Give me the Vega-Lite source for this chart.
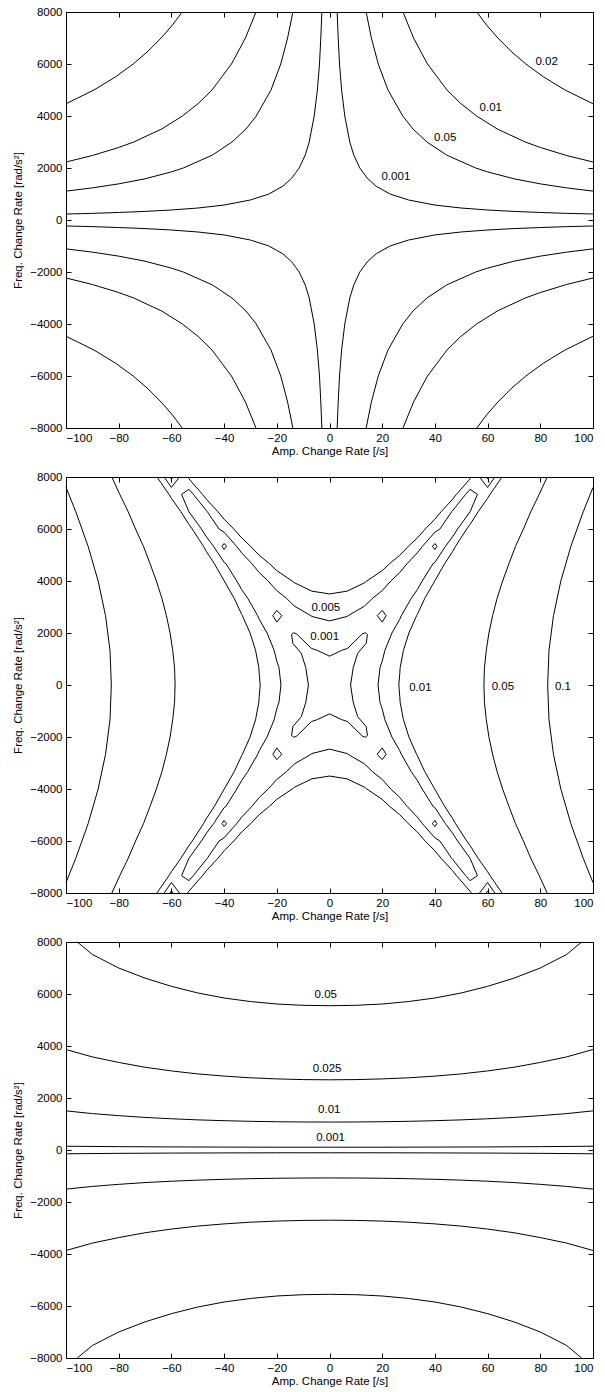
{
"$schema": "https://vega.github.io/schema/vega-lite/v6.json",
"padding": {"left": 12, "top": 5, "right": 2, "bottom": 4},
"bounds": "flush",
"spacing": 49,
"config": {
  "font": "Liberation Sans",
  "view": {"stroke": "black", "strokeWidth": 1},
  "axis": {"grid": false, "domain": false, "tickColor": "black", "tickSize": -5, "labelColor": "black", "labelFontSize": 11.5, "labelFont": "Liberation Sans", "titleFont": "Liberation Sans", "titleFontSize": 11.5, "titleFontWeight": "normal", "titleColor": "black"},
  "line": {"color": "black", "strokeWidth": 1, "clip": true},
  "text": {"color": "black", "fontSize": 11.5, "font": "Liberation Sans"}
},
"datasets": {
"p1": [
{"s":"A1","x":2.9,"y":8000},{"s":"A1","x":3.3,"y":7000},{"s":"A1","x":3.8,"y":6000},{"s":"A1","x":4.6,"y":5000},{"s":"A1","x":5.8,"y":4000},{"s":"A1","x":7.7,"y":3000},{"s":"A1","x":9.2,"y":2500},{"s":"A1","x":11.5,"y":2000},{"s":"A1","x":14.4,"y":1600},{"s":"A1","x":17.7,"y":1300},{"s":"A1","x":23,"y":1000},{"s":"A1","x":30,"y":770},{"s":"A1","x":40,"y":575},{"s":"A1","x":50,"y":460},{"s":"A1","x":60,"y":385},{"s":"A1","x":70,"y":330},{"s":"A1","x":80,"y":290},{"s":"A1","x":90,"y":255},{"s":"A1","x":100,"y":230},
{"s":"A2","x":-2.9,"y":8000},{"s":"A2","x":-3.3,"y":7000},{"s":"A2","x":-3.8,"y":6000},{"s":"A2","x":-4.6,"y":5000},{"s":"A2","x":-5.8,"y":4000},{"s":"A2","x":-7.7,"y":3000},{"s":"A2","x":-9.2,"y":2500},{"s":"A2","x":-11.5,"y":2000},{"s":"A2","x":-14.4,"y":1600},{"s":"A2","x":-17.7,"y":1300},{"s":"A2","x":-23,"y":1000},{"s":"A2","x":-30,"y":770},{"s":"A2","x":-40,"y":575},{"s":"A2","x":-50,"y":460},{"s":"A2","x":-60,"y":385},{"s":"A2","x":-70,"y":330},{"s":"A2","x":-80,"y":290},{"s":"A2","x":-90,"y":255},{"s":"A2","x":-100,"y":230},
{"s":"A3","x":-2.9,"y":-8000},{"s":"A3","x":-3.3,"y":-7000},{"s":"A3","x":-3.8,"y":-6000},{"s":"A3","x":-4.6,"y":-5000},{"s":"A3","x":-5.8,"y":-4000},{"s":"A3","x":-7.7,"y":-3000},{"s":"A3","x":-9.2,"y":-2500},{"s":"A3","x":-11.5,"y":-2000},{"s":"A3","x":-14.4,"y":-1600},{"s":"A3","x":-17.7,"y":-1300},{"s":"A3","x":-23,"y":-1000},{"s":"A3","x":-30,"y":-770},{"s":"A3","x":-40,"y":-575},{"s":"A3","x":-50,"y":-460},{"s":"A3","x":-60,"y":-385},{"s":"A3","x":-70,"y":-330},{"s":"A3","x":-80,"y":-290},{"s":"A3","x":-90,"y":-255},{"s":"A3","x":-100,"y":-230},
{"s":"A4","x":2.9,"y":-8000},{"s":"A4","x":3.3,"y":-7000},{"s":"A4","x":3.8,"y":-6000},{"s":"A4","x":4.6,"y":-5000},{"s":"A4","x":5.8,"y":-4000},{"s":"A4","x":7.7,"y":-3000},{"s":"A4","x":9.2,"y":-2500},{"s":"A4","x":11.5,"y":-2000},{"s":"A4","x":14.4,"y":-1600},{"s":"A4","x":17.7,"y":-1300},{"s":"A4","x":23,"y":-1000},{"s":"A4","x":30,"y":-770},{"s":"A4","x":40,"y":-575},{"s":"A4","x":50,"y":-460},{"s":"A4","x":60,"y":-385},{"s":"A4","x":70,"y":-330},{"s":"A4","x":80,"y":-290},{"s":"A4","x":90,"y":-255},{"s":"A4","x":100,"y":-230},
{"s":"B1","x":13.9,"y":8000},{"s":"B1","x":15.9,"y":7000},{"s":"B1","x":18.5,"y":6000},{"s":"B1","x":22.2,"y":5000},{"s":"B1","x":27.8,"y":4000},{"s":"B1","x":31.7,"y":3500},{"s":"B1","x":37,"y":3000},{"s":"B1","x":44.4,"y":2500},{"s":"B1","x":55.5,"y":2000},{"s":"B1","x":60,"y":1850},{"s":"B1","x":70,"y":1585},{"s":"B1","x":80,"y":1390},{"s":"B1","x":90,"y":1235},{"s":"B1","x":100,"y":1110},
{"s":"B2","x":-13.9,"y":8000},{"s":"B2","x":-15.9,"y":7000},{"s":"B2","x":-18.5,"y":6000},{"s":"B2","x":-22.2,"y":5000},{"s":"B2","x":-27.8,"y":4000},{"s":"B2","x":-31.7,"y":3500},{"s":"B2","x":-37,"y":3000},{"s":"B2","x":-44.4,"y":2500},{"s":"B2","x":-55.5,"y":2000},{"s":"B2","x":-60,"y":1850},{"s":"B2","x":-70,"y":1585},{"s":"B2","x":-80,"y":1390},{"s":"B2","x":-90,"y":1235},{"s":"B2","x":-100,"y":1110},
{"s":"B3","x":-13.9,"y":-8000},{"s":"B3","x":-15.9,"y":-7000},{"s":"B3","x":-18.5,"y":-6000},{"s":"B3","x":-22.2,"y":-5000},{"s":"B3","x":-27.8,"y":-4000},{"s":"B3","x":-31.7,"y":-3500},{"s":"B3","x":-37,"y":-3000},{"s":"B3","x":-44.4,"y":-2500},{"s":"B3","x":-55.5,"y":-2000},{"s":"B3","x":-60,"y":-1850},{"s":"B3","x":-70,"y":-1585},{"s":"B3","x":-80,"y":-1390},{"s":"B3","x":-90,"y":-1235},{"s":"B3","x":-100,"y":-1110},
{"s":"B4","x":13.9,"y":-8000},{"s":"B4","x":15.9,"y":-7000},{"s":"B4","x":18.5,"y":-6000},{"s":"B4","x":22.2,"y":-5000},{"s":"B4","x":27.8,"y":-4000},{"s":"B4","x":31.7,"y":-3500},{"s":"B4","x":37,"y":-3000},{"s":"B4","x":44.4,"y":-2500},{"s":"B4","x":55.5,"y":-2000},{"s":"B4","x":60,"y":-1850},{"s":"B4","x":70,"y":-1585},{"s":"B4","x":80,"y":-1390},{"s":"B4","x":90,"y":-1235},{"s":"B4","x":100,"y":-1110},
{"s":"C1","x":27.9,"y":8000},{"s":"C1","x":31.9,"y":7000},{"s":"C1","x":37.2,"y":6000},{"s":"C1","x":44.6,"y":5000},{"s":"C1","x":49.6,"y":4500},{"s":"C1","x":55.8,"y":4000},{"s":"C1","x":63.7,"y":3500},{"s":"C1","x":74.3,"y":3000},{"s":"C1","x":80,"y":2790},{"s":"C1","x":90,"y":2480},{"s":"C1","x":100,"y":2230},
{"s":"C2","x":-27.9,"y":8000},{"s":"C2","x":-31.9,"y":7000},{"s":"C2","x":-37.2,"y":6000},{"s":"C2","x":-44.6,"y":5000},{"s":"C2","x":-49.6,"y":4500},{"s":"C2","x":-55.8,"y":4000},{"s":"C2","x":-63.7,"y":3500},{"s":"C2","x":-74.3,"y":3000},{"s":"C2","x":-80,"y":2790},{"s":"C2","x":-90,"y":2480},{"s":"C2","x":-100,"y":2230},
{"s":"C3","x":-27.9,"y":-8000},{"s":"C3","x":-31.9,"y":-7000},{"s":"C3","x":-37.2,"y":-6000},{"s":"C3","x":-44.6,"y":-5000},{"s":"C3","x":-49.6,"y":-4500},{"s":"C3","x":-55.8,"y":-4000},{"s":"C3","x":-63.7,"y":-3500},{"s":"C3","x":-74.3,"y":-3000},{"s":"C3","x":-80,"y":-2790},{"s":"C3","x":-90,"y":-2480},{"s":"C3","x":-100,"y":-2230},
{"s":"C4","x":27.9,"y":-8000},{"s":"C4","x":31.9,"y":-7000},{"s":"C4","x":37.2,"y":-6000},{"s":"C4","x":44.6,"y":-5000},{"s":"C4","x":49.6,"y":-4500},{"s":"C4","x":55.8,"y":-4000},{"s":"C4","x":63.7,"y":-3500},{"s":"C4","x":74.3,"y":-3000},{"s":"C4","x":80,"y":-2790},{"s":"C4","x":90,"y":-2480},{"s":"C4","x":100,"y":-2230},
{"s":"D1","x":55.9,"y":8000},{"s":"D1","x":59.6,"y":7500},{"s":"D1","x":63.9,"y":7000},{"s":"D1","x":68.8,"y":6500},{"s":"D1","x":74.5,"y":6000},{"s":"D1","x":81.3,"y":5500},{"s":"D1","x":89.4,"y":5000},{"s":"D1","x":100,"y":4470},
{"s":"D2","x":-55.9,"y":8000},{"s":"D2","x":-59.6,"y":7500},{"s":"D2","x":-63.9,"y":7000},{"s":"D2","x":-68.8,"y":6500},{"s":"D2","x":-74.5,"y":6000},{"s":"D2","x":-81.3,"y":5500},{"s":"D2","x":-89.4,"y":5000},{"s":"D2","x":-100,"y":4470},
{"s":"D3","x":-55.9,"y":-8000},{"s":"D3","x":-59.6,"y":-7500},{"s":"D3","x":-63.9,"y":-7000},{"s":"D3","x":-68.8,"y":-6500},{"s":"D3","x":-74.5,"y":-6000},{"s":"D3","x":-81.3,"y":-5500},{"s":"D3","x":-89.4,"y":-5000},{"s":"D3","x":-100,"y":-4470},
{"s":"D4","x":55.9,"y":-8000},{"s":"D4","x":59.6,"y":-7500},{"s":"D4","x":63.9,"y":-7000},{"s":"D4","x":68.8,"y":-6500},{"s":"D4","x":74.5,"y":-6000},{"s":"D4","x":81.3,"y":-5500},{"s":"D4","x":89.4,"y":-5000},{"s":"D4","x":100,"y":-4470}
],
"p1t": [
{"t":"0.02","x":82.4,"y":6080},{"t":"0.01","x":61.2,"y":4301},{"t":"0.05","x":43.9,"y":3149},{"t":"0.001","x":25.2,"y":1664}
],
"p2s": [
{"s":"r1","x":100,"y":-7600},{"s":"r1","x":96.3,"y":-6667},{"s":"r1","x":91.6,"y":-5333},{"s":"r1","x":87.8,"y":-4000},{"s":"r1","x":85,"y":-2667},{"s":"r1","x":83.3,"y":-1333},{"s":"r1","x":82.8,"y":0},{"s":"r1","x":83.3,"y":1333},{"s":"r1","x":85,"y":2667},{"s":"r1","x":87.8,"y":4000},{"s":"r1","x":91.6,"y":5333},{"s":"r1","x":96.3,"y":6667},{"s":"r1","x":100,"y":7600},
{"s":"r2","x":-100,"y":-7600},{"s":"r2","x":-96.3,"y":-6667},{"s":"r2","x":-91.6,"y":-5333},{"s":"r2","x":-87.8,"y":-4000},{"s":"r2","x":-85,"y":-2667},{"s":"r2","x":-83.3,"y":-1333},{"s":"r2","x":-82.8,"y":0},{"s":"r2","x":-83.3,"y":1333},{"s":"r2","x":-85,"y":2667},{"s":"r2","x":-87.8,"y":4000},{"s":"r2","x":-91.6,"y":5333},{"s":"r2","x":-96.3,"y":6667},{"s":"r2","x":-100,"y":7600},
{"s":"f1","x":82.6,"y":-8000},{"s":"f1","x":79.6,"y":-7333},{"s":"f1","x":76.4,"y":-6667},{"s":"f1","x":73.6,"y":-6000},{"s":"f1","x":70.6,"y":-5333},{"s":"f1","x":68.1,"y":-4667},{"s":"f1","x":65.7,"y":-4000},{"s":"f1","x":63.6,"y":-3333},{"s":"f1","x":61.9,"y":-2667},{"s":"f1","x":60.5,"y":-2000},{"s":"f1","x":59.5,"y":-1333},{"s":"f1","x":58.8,"y":-667},{"s":"f1","x":58.6,"y":0},{"s":"f1","x":58.8,"y":667},{"s":"f1","x":59.5,"y":1333},{"s":"f1","x":60.5,"y":2000},{"s":"f1","x":61.9,"y":2667},{"s":"f1","x":63.6,"y":3333},{"s":"f1","x":65.7,"y":4000},{"s":"f1","x":68.1,"y":4667},{"s":"f1","x":70.6,"y":5333},{"s":"f1","x":73.6,"y":6000},{"s":"f1","x":76.4,"y":6667},{"s":"f1","x":79.6,"y":7333},{"s":"f1","x":82.6,"y":8000},
{"s":"f2","x":-82.6,"y":-8000},{"s":"f2","x":-79.6,"y":-7333},{"s":"f2","x":-76.4,"y":-6667},{"s":"f2","x":-73.6,"y":-6000},{"s":"f2","x":-70.6,"y":-5333},{"s":"f2","x":-68.1,"y":-4667},{"s":"f2","x":-65.7,"y":-4000},{"s":"f2","x":-63.6,"y":-3333},{"s":"f2","x":-61.9,"y":-2667},{"s":"f2","x":-60.5,"y":-2000},{"s":"f2","x":-59.5,"y":-1333},{"s":"f2","x":-58.8,"y":-667},{"s":"f2","x":-58.6,"y":0},{"s":"f2","x":-58.8,"y":667},{"s":"f2","x":-59.5,"y":1333},{"s":"f2","x":-60.5,"y":2000},{"s":"f2","x":-61.9,"y":2667},{"s":"f2","x":-63.6,"y":3333},{"s":"f2","x":-65.7,"y":4000},{"s":"f2","x":-68.1,"y":4667},{"s":"f2","x":-70.6,"y":5333},{"s":"f2","x":-73.6,"y":6000},{"s":"f2","x":-76.4,"y":6667},{"s":"f2","x":-79.6,"y":7333},{"s":"f2","x":-82.6,"y":8000},
{"s":"g1","x":65.48,"y":-8000},{"s":"g1","x":60.94,"y":-7333},{"s":"g1","x":60,"y":-7182},{"s":"g1","x":56.42,"y":-6667},{"s":"g1","x":53.33,"y":-6175},{"s":"g1","x":52.08,"y":-6000},{"s":"g1","x":47.83,"y":-5333},{"s":"g1","x":46.67,"y":-5126},{"s":"g1","x":43.69,"y":-4667},{"s":"g1","x":40,"y":-4011},{"s":"g1","x":36.17,"y":-3333},{"s":"g1","x":33.33,"y":-2716},{"s":"g1","x":33.06,"y":-2667},{"s":"g1","x":30.14,"y":-2000},{"s":"g1","x":28.06,"y":-1333},{"s":"g1","x":26.81,"y":-667},{"s":"g1","x":26.67,"y":-444},{"s":"g1","x":26.31,"y":0},{"s":"g1","x":26.67,"y":444},{"s":"g1","x":26.81,"y":667},{"s":"g1","x":28.06,"y":1333},{"s":"g1","x":30.14,"y":2000},{"s":"g1","x":33.06,"y":2667},{"s":"g1","x":33.33,"y":2716},{"s":"g1","x":36.17,"y":3333},{"s":"g1","x":40,"y":4011},{"s":"g1","x":43.69,"y":4667},{"s":"g1","x":46.67,"y":5126},{"s":"g1","x":47.83,"y":5333},{"s":"g1","x":52.08,"y":6000},{"s":"g1","x":53.33,"y":6175},{"s":"g1","x":56.42,"y":6667},{"s":"g1","x":60,"y":7182},{"s":"g1","x":60.94,"y":7333},{"s":"g1","x":65.48,"y":8000},
{"s":"g2","x":-65.48,"y":-8000},{"s":"g2","x":-60.94,"y":-7333},{"s":"g2","x":-60,"y":-7182},{"s":"g2","x":-56.42,"y":-6667},{"s":"g2","x":-53.33,"y":-6175},{"s":"g2","x":-52.08,"y":-6000},{"s":"g2","x":-47.83,"y":-5333},{"s":"g2","x":-46.67,"y":-5126},{"s":"g2","x":-43.69,"y":-4667},{"s":"g2","x":-40,"y":-4011},{"s":"g2","x":-36.17,"y":-3333},{"s":"g2","x":-33.33,"y":-2716},{"s":"g2","x":-33.06,"y":-2667},{"s":"g2","x":-30.14,"y":-2000},{"s":"g2","x":-28.06,"y":-1333},{"s":"g2","x":-26.81,"y":-667},{"s":"g2","x":-26.67,"y":-444},{"s":"g2","x":-26.31,"y":0},{"s":"g2","x":-26.67,"y":444},{"s":"g2","x":-26.81,"y":667},{"s":"g2","x":-28.06,"y":1333},{"s":"g2","x":-30.14,"y":2000},{"s":"g2","x":-33.06,"y":2667},{"s":"g2","x":-33.33,"y":2716},{"s":"g2","x":-36.17,"y":3333},{"s":"g2","x":-40,"y":4011},{"s":"g2","x":-43.69,"y":4667},{"s":"g2","x":-46.67,"y":5126},{"s":"g2","x":-47.83,"y":5333},{"s":"g2","x":-52.08,"y":6000},{"s":"g2","x":-53.33,"y":6175},{"s":"g2","x":-56.42,"y":6667},{"s":"g2","x":-60,"y":7182},{"s":"g2","x":-60.94,"y":7333},{"s":"g2","x":-65.48,"y":8000}
],
"p2t": [
{"s":"u1","x":-53.87,"y":8000},{"s":"u1","x":-53.33,"y":7929},{"s":"u1","x":-48.2,"y":7333},{"s":"u1","x":-46.67,"y":7139},{"s":"u1","x":-42.37,"y":6667},{"s":"u1","x":-40,"y":6378},{"s":"u1","x":-36.32,"y":6000},{"s":"u1","x":-33.33,"y":5656},{"s":"u1","x":-29.91,"y":5333},{"s":"u1","x":-26.67,"y":4988},{"s":"u1","x":-22.8,"y":4667},{"s":"u1","x":-20,"y":4399},{"s":"u1","x":-14.17,"y":4000},{"s":"u1","x":-13.33,"y":3933},{"s":"u1","x":-6.67,"y":3609},{"s":"u1","x":0,"y":3502},{"s":"u1","x":6.67,"y":3609},{"s":"u1","x":13.33,"y":3933},{"s":"u1","x":14.17,"y":4000},{"s":"u1","x":20,"y":4399},{"s":"u1","x":22.8,"y":4667},{"s":"u1","x":26.67,"y":4988},{"s":"u1","x":29.91,"y":5333},{"s":"u1","x":33.33,"y":5656},{"s":"u1","x":36.32,"y":6000},{"s":"u1","x":40,"y":6378},{"s":"u1","x":42.37,"y":6667},{"s":"u1","x":46.67,"y":7139},{"s":"u1","x":48.2,"y":7333},{"s":"u1","x":53.33,"y":7929},{"s":"u1","x":53.87,"y":8000},
{"s":"u2","x":-53.87,"y":-8000},{"s":"u2","x":-53.33,"y":-7929},{"s":"u2","x":-48.2,"y":-7333},{"s":"u2","x":-46.67,"y":-7139},{"s":"u2","x":-42.37,"y":-6667},{"s":"u2","x":-40,"y":-6378},{"s":"u2","x":-36.32,"y":-6000},{"s":"u2","x":-33.33,"y":-5656},{"s":"u2","x":-29.91,"y":-5333},{"s":"u2","x":-26.67,"y":-4988},{"s":"u2","x":-22.8,"y":-4667},{"s":"u2","x":-20,"y":-4399},{"s":"u2","x":-14.17,"y":-4000},{"s":"u2","x":-13.33,"y":-3933},{"s":"u2","x":-6.67,"y":-3609},{"s":"u2","x":0,"y":-3502},{"s":"u2","x":6.67,"y":-3609},{"s":"u2","x":13.33,"y":-3933},{"s":"u2","x":14.17,"y":-4000},{"s":"u2","x":20,"y":-4399},{"s":"u2","x":22.8,"y":-4667},{"s":"u2","x":26.67,"y":-4988},{"s":"u2","x":29.91,"y":-5333},{"s":"u2","x":33.33,"y":-5656},{"s":"u2","x":36.32,"y":-6000},{"s":"u2","x":40,"y":-6378},{"s":"u2","x":42.37,"y":-6667},{"s":"u2","x":46.67,"y":-7139},{"s":"u2","x":48.2,"y":-7333},{"s":"u2","x":53.33,"y":-7929},{"s":"u2","x":53.87,"y":-8000}
],
"p2o": [
{"s":"v1","i":0,"x":0,"y":2466},{"s":"v1","i":1,"x":6.67,"y":2635},{"s":"v1","i":2,"x":7.08,"y":2667},{"s":"v1","i":3,"x":13.33,"y":3037},{"s":"v1","i":4,"x":16.33,"y":3333},{"s":"v1","i":5,"x":20,"y":3630},{"s":"v1","i":6,"x":23.27,"y":4000},{"s":"v1","i":7,"x":26.67,"y":4325},{"s":"v1","i":8,"x":29.44,"y":4667},{"s":"v1","i":9,"x":33.33,"y":5081},{"s":"v1","i":10,"x":35.26,"y":5333},{"s":"v1","i":11,"x":40,"y":5878},{"s":"v1","i":12,"x":41.9,"y":6000},{"s":"v1","i":13,"x":46.38,"y":6667},{"s":"v1","i":14,"x":46.67,"y":6698},{"s":"v1","i":15,"x":51.67,"y":7333},{"s":"v1","i":16,"x":53.33,"y":7526},{"s":"v1","i":17,"x":56.15,"y":7333},{"s":"v1","i":18,"x":53.35,"y":6665},{"s":"v1","i":19,"x":48.61,"y":6000},{"s":"v1","i":20,"x":46.67,"y":5695},{"s":"v1","i":21,"x":44.01,"y":5333},{"s":"v1","i":22,"x":40,"y":4716},{"s":"v1","i":23,"x":39.29,"y":4667},{"s":"v1","i":24,"x":35.19,"y":4000},{"s":"v1","i":25,"x":33.33,"y":3670},{"s":"v1","i":26,"x":31.02,"y":3333},{"s":"v1","i":27,"x":27.27,"y":2667},{"s":"v1","i":28,"x":26.67,"y":2529},{"s":"v1","i":29,"x":23.69,"y":2000},{"s":"v1","i":30,"x":21.01,"y":1333},{"s":"v1","i":31,"x":20,"y":914},{"s":"v1","i":32,"x":19.17,"y":667},{"s":"v1","i":33,"x":18.42,"y":0},
{"s":"v2","i":0,"x":0,"y":2466},{"s":"v2","i":1,"x":-6.67,"y":2635},{"s":"v2","i":2,"x":-7.08,"y":2667},{"s":"v2","i":3,"x":-13.33,"y":3037},{"s":"v2","i":4,"x":-16.33,"y":3333},{"s":"v2","i":5,"x":-20,"y":3630},{"s":"v2","i":6,"x":-23.27,"y":4000},{"s":"v2","i":7,"x":-26.67,"y":4325},{"s":"v2","i":8,"x":-29.44,"y":4667},{"s":"v2","i":9,"x":-33.33,"y":5081},{"s":"v2","i":10,"x":-35.26,"y":5333},{"s":"v2","i":11,"x":-40,"y":5878},{"s":"v2","i":12,"x":-41.9,"y":6000},{"s":"v2","i":13,"x":-46.38,"y":6667},{"s":"v2","i":14,"x":-46.67,"y":6698},{"s":"v2","i":15,"x":-51.67,"y":7333},{"s":"v2","i":16,"x":-53.33,"y":7526},{"s":"v2","i":17,"x":-56.15,"y":7333},{"s":"v2","i":18,"x":-53.35,"y":6665},{"s":"v2","i":19,"x":-48.61,"y":6000},{"s":"v2","i":20,"x":-46.67,"y":5695},{"s":"v2","i":21,"x":-44.01,"y":5333},{"s":"v2","i":22,"x":-40,"y":4716},{"s":"v2","i":23,"x":-39.29,"y":4667},{"s":"v2","i":24,"x":-35.19,"y":4000},{"s":"v2","i":25,"x":-33.33,"y":3670},{"s":"v2","i":26,"x":-31.02,"y":3333},{"s":"v2","i":27,"x":-27.27,"y":2667},{"s":"v2","i":28,"x":-26.67,"y":2529},{"s":"v2","i":29,"x":-23.69,"y":2000},{"s":"v2","i":30,"x":-21.01,"y":1333},{"s":"v2","i":31,"x":-20,"y":914},{"s":"v2","i":32,"x":-19.17,"y":667},{"s":"v2","i":33,"x":-18.42,"y":0},
{"s":"v3","i":0,"x":0,"y":-2466},{"s":"v3","i":1,"x":-6.67,"y":-2635},{"s":"v3","i":2,"x":-7.08,"y":-2667},{"s":"v3","i":3,"x":-13.33,"y":-3037},{"s":"v3","i":4,"x":-16.33,"y":-3333},{"s":"v3","i":5,"x":-20,"y":-3630},{"s":"v3","i":6,"x":-23.27,"y":-4000},{"s":"v3","i":7,"x":-26.67,"y":-4325},{"s":"v3","i":8,"x":-29.44,"y":-4667},{"s":"v3","i":9,"x":-33.33,"y":-5081},{"s":"v3","i":10,"x":-35.26,"y":-5333},{"s":"v3","i":11,"x":-40,"y":-5878},{"s":"v3","i":12,"x":-41.9,"y":-6000},{"s":"v3","i":13,"x":-46.38,"y":-6667},{"s":"v3","i":14,"x":-46.67,"y":-6698},{"s":"v3","i":15,"x":-51.67,"y":-7333},{"s":"v3","i":16,"x":-53.33,"y":-7526},{"s":"v3","i":17,"x":-56.15,"y":-7333},{"s":"v3","i":18,"x":-53.35,"y":-6665},{"s":"v3","i":19,"x":-48.61,"y":-6000},{"s":"v3","i":20,"x":-46.67,"y":-5695},{"s":"v3","i":21,"x":-44.01,"y":-5333},{"s":"v3","i":22,"x":-40,"y":-4716},{"s":"v3","i":23,"x":-39.29,"y":-4667},{"s":"v3","i":24,"x":-35.19,"y":-4000},{"s":"v3","i":25,"x":-33.33,"y":-3670},{"s":"v3","i":26,"x":-31.02,"y":-3333},{"s":"v3","i":27,"x":-27.27,"y":-2667},{"s":"v3","i":28,"x":-26.67,"y":-2529},{"s":"v3","i":29,"x":-23.69,"y":-2000},{"s":"v3","i":30,"x":-21.01,"y":-1333},{"s":"v3","i":31,"x":-20,"y":-914},{"s":"v3","i":32,"x":-19.17,"y":-667},{"s":"v3","i":33,"x":-18.42,"y":0},
{"s":"v4","i":0,"x":0,"y":-2466},{"s":"v4","i":1,"x":6.67,"y":-2635},{"s":"v4","i":2,"x":7.08,"y":-2667},{"s":"v4","i":3,"x":13.33,"y":-3037},{"s":"v4","i":4,"x":16.33,"y":-3333},{"s":"v4","i":5,"x":20,"y":-3630},{"s":"v4","i":6,"x":23.27,"y":-4000},{"s":"v4","i":7,"x":26.67,"y":-4325},{"s":"v4","i":8,"x":29.44,"y":-4667},{"s":"v4","i":9,"x":33.33,"y":-5081},{"s":"v4","i":10,"x":35.26,"y":-5333},{"s":"v4","i":11,"x":40,"y":-5878},{"s":"v4","i":12,"x":41.9,"y":-6000},{"s":"v4","i":13,"x":46.38,"y":-6667},{"s":"v4","i":14,"x":46.67,"y":-6698},{"s":"v4","i":15,"x":51.67,"y":-7333},{"s":"v4","i":16,"x":53.33,"y":-7526},{"s":"v4","i":17,"x":56.15,"y":-7333},{"s":"v4","i":18,"x":53.35,"y":-6665},{"s":"v4","i":19,"x":48.61,"y":-6000},{"s":"v4","i":20,"x":46.67,"y":-5695},{"s":"v4","i":21,"x":44.01,"y":-5333},{"s":"v4","i":22,"x":40,"y":-4716},{"s":"v4","i":23,"x":39.29,"y":-4667},{"s":"v4","i":24,"x":35.19,"y":-4000},{"s":"v4","i":25,"x":33.33,"y":-3670},{"s":"v4","i":26,"x":31.02,"y":-3333},{"s":"v4","i":27,"x":27.27,"y":-2667},{"s":"v4","i":28,"x":26.67,"y":-2529},{"s":"v4","i":29,"x":23.69,"y":-2000},{"s":"v4","i":30,"x":21.01,"y":-1333},{"s":"v4","i":31,"x":20,"y":-914},{"s":"v4","i":32,"x":19.17,"y":-667},{"s":"v4","i":33,"x":18.42,"y":0},
{"s":"st","i":0,"x":0,"y":1110},{"s":"st","i":1,"x":4.6,"y":1330},{"s":"st","i":2,"x":6.9,"y":1410},{"s":"st","i":3,"x":12.4,"y":1960},{"s":"st","i":4,"x":13.6,"y":2010},{"s":"st","i":5,"x":14.4,"y":1940},{"s":"st","i":6,"x":13.9,"y":1600},{"s":"st","i":7,"x":10.7,"y":1220},{"s":"st","i":8,"x":9,"y":667},{"s":"st","i":9,"x":8,"y":0},
{"s":"st","i":10,"x":9,"y":-667},{"s":"st","i":11,"x":10.7,"y":-1220},{"s":"st","i":12,"x":13.9,"y":-1600},{"s":"st","i":13,"x":14.4,"y":-1940},{"s":"st","i":14,"x":13.6,"y":-2010},{"s":"st","i":15,"x":12.4,"y":-1960},{"s":"st","i":16,"x":6.9,"y":-1410},{"s":"st","i":17,"x":4.6,"y":-1330},{"s":"st","i":18,"x":0,"y":-1110},
{"s":"st","i":19,"x":-4.6,"y":-1330},{"s":"st","i":20,"x":-6.9,"y":-1410},{"s":"st","i":21,"x":-12.4,"y":-1960},{"s":"st","i":22,"x":-13.6,"y":-2010},{"s":"st","i":23,"x":-14.4,"y":-1940},{"s":"st","i":24,"x":-13.9,"y":-1600},{"s":"st","i":25,"x":-10.7,"y":-1220},{"s":"st","i":26,"x":-9,"y":-667},{"s":"st","i":27,"x":-8,"y":0},
{"s":"st","i":28,"x":-9,"y":667},{"s":"st","i":29,"x":-10.7,"y":1220},{"s":"st","i":30,"x":-13.9,"y":1600},{"s":"st","i":31,"x":-14.4,"y":1940},{"s":"st","i":32,"x":-13.6,"y":2010},{"s":"st","i":33,"x":-12.4,"y":1960},{"s":"st","i":34,"x":-6.9,"y":1410},{"s":"st","i":35,"x":-4.6,"y":1330},{"s":"st","i":36,"x":0,"y":1110},
{"s":"d1","i":0,"x":20,"y":2870},{"s":"d1","i":1,"x":21.5,"y":2667},{"s":"d1","i":2,"x":20,"y":2420},{"s":"d1","i":3,"x":18.1,"y":2667},{"s":"d1","i":4,"x":20,"y":2870},
{"s":"d2","i":0,"x":-20,"y":2870},{"s":"d2","i":1,"x":-21.5,"y":2667},{"s":"d2","i":2,"x":-20,"y":2420},{"s":"d2","i":3,"x":-18.1,"y":2667},{"s":"d2","i":4,"x":-20,"y":2870},
{"s":"d3","i":0,"x":20,"y":-2870},{"s":"d3","i":1,"x":21.5,"y":-2667},{"s":"d3","i":2,"x":20,"y":-2420},{"s":"d3","i":3,"x":18.1,"y":-2667},{"s":"d3","i":4,"x":20,"y":-2870},
{"s":"d4","i":0,"x":-20,"y":-2870},{"s":"d4","i":1,"x":-21.5,"y":-2667},{"s":"d4","i":2,"x":-20,"y":-2420},{"s":"d4","i":3,"x":-18.1,"y":-2667},{"s":"d4","i":4,"x":-20,"y":-2870},
{"s":"e1","i":0,"x":40,"y":5442},{"s":"e1","i":1,"x":40.8,"y":5333},{"s":"e1","i":2,"x":40,"y":5210},{"s":"e1","i":3,"x":39.05,"y":5333},{"s":"e1","i":4,"x":40,"y":5442},
{"s":"e2","i":0,"x":-40,"y":5442},{"s":"e2","i":1,"x":-40.8,"y":5333},{"s":"e2","i":2,"x":-40,"y":5210},{"s":"e2","i":3,"x":-39.05,"y":5333},{"s":"e2","i":4,"x":-40,"y":5442},
{"s":"e3","i":0,"x":40,"y":-5442},{"s":"e3","i":1,"x":40.8,"y":-5333},{"s":"e3","i":2,"x":40,"y":-5210},{"s":"e3","i":3,"x":39.05,"y":-5333},{"s":"e3","i":4,"x":40,"y":-5442},
{"s":"e4","i":0,"x":-40,"y":-5442},{"s":"e4","i":1,"x":-40.8,"y":-5333},{"s":"e4","i":2,"x":-40,"y":-5210},{"s":"e4","i":3,"x":-39.05,"y":-5333},{"s":"e4","i":4,"x":-40,"y":-5442},
{"s":"w1","i":0,"x":56.93,"y":8000},{"s":"w1","i":1,"x":60,"y":7597},{"s":"w1","i":2,"x":62.74,"y":8000},
{"s":"w2","i":0,"x":-56.93,"y":8000},{"s":"w2","i":1,"x":-60,"y":7597},{"s":"w2","i":2,"x":-62.74,"y":8000},
{"s":"w3","i":0,"x":-56.93,"y":-8000},{"s":"w3","i":1,"x":-60,"y":-7597},{"s":"w3","i":2,"x":-62.74,"y":-8000},
{"s":"w4","i":0,"x":56.93,"y":-8000},{"s":"w4","i":1,"x":60,"y":-7597},{"s":"w4","i":2,"x":62.74,"y":-8000},
{"s":"z1","i":0,"x":59.39,"y":8000},{"s":"z1","i":1,"x":60,"y":7920},{"s":"z1","i":2,"x":60.55,"y":8000},
{"s":"z2","i":0,"x":-59.39,"y":8000},{"s":"z2","i":1,"x":-60,"y":7920},{"s":"z2","i":2,"x":-60.55,"y":8000},
{"s":"z3","i":0,"x":-59.39,"y":-8000},{"s":"z3","i":1,"x":-60,"y":-7920},{"s":"z3","i":2,"x":-60.55,"y":-8000},
{"s":"z4","i":0,"x":59.39,"y":-8000},{"s":"z4","i":1,"x":60,"y":-7920},{"s":"z4","i":2,"x":60.55,"y":-8000}
],
"p2tx": [
{"t":"0.005","x":-1.4,"y":2971},{"t":"0.001","x":-1.8,"y":1842},{"t":"0.01","x":34.5,"y":-134},{"t":"0.05","x":65.8,"y":-83},{"t":"0.1","x":88.6,"y":-83}
],
"p3": [
{"s":"a1","x":-95.7,"y":8000},{"s":"a1","x":-90,"y":7520},{"s":"a1","x":-80,"y":7000},{"s":"a1","x":-70,"y":6610},{"s":"a1","x":-60,"y":6295},{"s":"a1","x":-50,"y":6040},{"s":"a1","x":-40,"y":5846},{"s":"a1","x":-30,"y":5710},{"s":"a1","x":-20,"y":5615},{"s":"a1","x":-10,"y":5565},{"s":"a1","x":0,"y":5550},{"s":"a1","x":10,"y":5565},{"s":"a1","x":20,"y":5615},{"s":"a1","x":30,"y":5710},{"s":"a1","x":40,"y":5846},{"s":"a1","x":50,"y":6040},{"s":"a1","x":60,"y":6295},{"s":"a1","x":70,"y":6610},{"s":"a1","x":80,"y":7000},{"s":"a1","x":90,"y":7520},{"s":"a1","x":95.7,"y":8000},
{"s":"a2","x":-95.7,"y":-8000},{"s":"a2","x":-90,"y":-7520},{"s":"a2","x":-80,"y":-7000},{"s":"a2","x":-70,"y":-6610},{"s":"a2","x":-60,"y":-6295},{"s":"a2","x":-50,"y":-6040},{"s":"a2","x":-40,"y":-5846},{"s":"a2","x":-30,"y":-5710},{"s":"a2","x":-20,"y":-5615},{"s":"a2","x":-10,"y":-5565},{"s":"a2","x":0,"y":-5550},{"s":"a2","x":10,"y":-5565},{"s":"a2","x":20,"y":-5615},{"s":"a2","x":30,"y":-5710},{"s":"a2","x":40,"y":-5846},{"s":"a2","x":50,"y":-6040},{"s":"a2","x":60,"y":-6295},{"s":"a2","x":70,"y":-6610},{"s":"a2","x":80,"y":-7000},{"s":"a2","x":90,"y":-7520},{"s":"a2","x":95.7,"y":-8000},
{"s":"b1","x":-100,"y":3865},{"s":"b1","x":-90,"y":3581},{"s":"b1","x":-80,"y":3368},{"s":"b1","x":-70,"y":3183},{"s":"b1","x":-60,"y":3041},{"s":"b1","x":-50,"y":2927},{"s":"b1","x":-40,"y":2842},{"s":"b1","x":-30,"y":2777},{"s":"b1","x":-20,"y":2734},{"s":"b1","x":-10,"y":2708},{"s":"b1","x":0,"y":2700},{"s":"b1","x":10,"y":2708},{"s":"b1","x":20,"y":2734},{"s":"b1","x":30,"y":2777},{"s":"b1","x":40,"y":2842},{"s":"b1","x":50,"y":2927},{"s":"b1","x":60,"y":3041},{"s":"b1","x":70,"y":3183},{"s":"b1","x":80,"y":3368},{"s":"b1","x":90,"y":3581},{"s":"b1","x":100,"y":3865},
{"s":"b2","x":-100,"y":-3865},{"s":"b2","x":-90,"y":-3581},{"s":"b2","x":-80,"y":-3368},{"s":"b2","x":-70,"y":-3183},{"s":"b2","x":-60,"y":-3041},{"s":"b2","x":-50,"y":-2927},{"s":"b2","x":-40,"y":-2842},{"s":"b2","x":-30,"y":-2777},{"s":"b2","x":-20,"y":-2734},{"s":"b2","x":-10,"y":-2708},{"s":"b2","x":0,"y":-2700},{"s":"b2","x":10,"y":-2708},{"s":"b2","x":20,"y":-2734},{"s":"b2","x":30,"y":-2777},{"s":"b2","x":40,"y":-2842},{"s":"b2","x":50,"y":-2927},{"s":"b2","x":60,"y":-3041},{"s":"b2","x":70,"y":-3183},{"s":"b2","x":80,"y":-3368},{"s":"b2","x":90,"y":-3581},{"s":"b2","x":100,"y":-3865},
{"s":"c1","x":-100,"y":1505},{"s":"c1","x":-90,"y":1400},{"s":"c1","x":-80,"y":1321},{"s":"c1","x":-70,"y":1253},{"s":"c1","x":-60,"y":1201},{"s":"c1","x":-50,"y":1159},{"s":"c1","x":-40,"y":1127},{"s":"c1","x":-30,"y":1103},{"s":"c1","x":-20,"y":1087},{"s":"c1","x":-10,"y":1078},{"s":"c1","x":0,"y":1075},{"s":"c1","x":10,"y":1078},{"s":"c1","x":20,"y":1087},{"s":"c1","x":30,"y":1103},{"s":"c1","x":40,"y":1127},{"s":"c1","x":50,"y":1159},{"s":"c1","x":60,"y":1201},{"s":"c1","x":70,"y":1253},{"s":"c1","x":80,"y":1321},{"s":"c1","x":90,"y":1400},{"s":"c1","x":100,"y":1505},
{"s":"c2","x":-100,"y":-1505},{"s":"c2","x":-90,"y":-1400},{"s":"c2","x":-80,"y":-1321},{"s":"c2","x":-70,"y":-1253},{"s":"c2","x":-60,"y":-1201},{"s":"c2","x":-50,"y":-1159},{"s":"c2","x":-40,"y":-1127},{"s":"c2","x":-30,"y":-1103},{"s":"c2","x":-20,"y":-1087},{"s":"c2","x":-10,"y":-1078},{"s":"c2","x":0,"y":-1075},{"s":"c2","x":10,"y":-1078},{"s":"c2","x":20,"y":-1087},{"s":"c2","x":30,"y":-1103},{"s":"c2","x":40,"y":-1127},{"s":"c2","x":50,"y":-1159},{"s":"c2","x":60,"y":-1201},{"s":"c2","x":70,"y":-1253},{"s":"c2","x":80,"y":-1321},{"s":"c2","x":90,"y":-1400},{"s":"c2","x":100,"y":-1505},
{"s":"d1","x":-100,"y":145},{"s":"d1","x":-80,"y":129},{"s":"d1","x":-60,"y":118},{"s":"d1","x":-40,"y":112},{"s":"d1","x":-20,"y":108},{"s":"d1","x":0,"y":107},{"s":"d1","x":20,"y":108},{"s":"d1","x":40,"y":112},{"s":"d1","x":60,"y":118},{"s":"d1","x":80,"y":129},{"s":"d1","x":100,"y":145},
{"s":"d2","x":-100,"y":-145},{"s":"d2","x":-80,"y":-129},{"s":"d2","x":-60,"y":-118},{"s":"d2","x":-40,"y":-112},{"s":"d2","x":-20,"y":-108},{"s":"d2","x":0,"y":-107},{"s":"d2","x":20,"y":-108},{"s":"d2","x":40,"y":-112},{"s":"d2","x":60,"y":-118},{"s":"d2","x":80,"y":-129},{"s":"d2","x":100,"y":-145}
],
"p3t": [
{"t":"0.05","x":-1.4,"y":5974},{"t":"0.025","x":-0.9,"y":3128},{"t":"0.01","x":-0.1,"y":1526},{"t":"0.001","x":0.4,"y":462}
]
},
"vconcat": [
{
 "width": 527, "height": 416,
 "layer": [
  {"data": {"name": "p1"}, "mark": {"type": "line"},
   "encoding": {
    "x": {"field": "x", "type": "quantitative", "scale": {"domain": [-100, 100], "nice": false, "zero": false}, "axis": {"orient": "bottom", "values": [-100,-80,-60,-40,-20,0,20,40,60,80,100], "format": "d", "title": "Amp. Change Rate [/s]", "labelPadding": 9, "titlePadding": 2}},
    "y": {"field": "y", "type": "quantitative", "scale": {"domain": [-8000, 8000], "nice": false, "zero": false}, "axis": {"orient": "left", "values": [-8000,-6000,-4000,-2000,0,2000,4000,6000,8000], "format": "d", "title": "Freq. Change Rate [rad/s²]", "labelPadding": 9, "titlePadding": 6}},
    "detail": {"field": "s"}}},
  {"data": {"name": "p1t"}, "mark": {"type": "text"},
   "encoding": {
    "x": {"field": "x", "type": "quantitative", "axis": {"orient": "top", "values": [-100,-80,-60,-40,-20,0,20,40,60,80,100], "labels": false, "title": null}},
    "y": {"field": "y", "type": "quantitative", "axis": {"orient": "right", "values": [-8000,-6000,-4000,-2000,0,2000,4000,6000,8000], "labels": false, "title": null}},
    "text": {"field": "t"}}}
 ],
 "resolve": {"axis": {"x": "independent", "y": "independent"}}
},
{
 "width": 527, "height": 416,
 "layer": [
  {"data": {"name": "p2s"}, "mark": {"type": "line"},
   "encoding": {
    "x": {"field": "x", "type": "quantitative", "scale": {"domain": [-100, 100], "nice": false, "zero": false}, "axis": {"orient": "bottom", "values": [-100,-80,-60,-40,-20,0,20,40,60,80,100], "format": "d", "title": "Amp. Change Rate [/s]", "labelPadding": 9, "titlePadding": 2}},
    "y": {"field": "y", "type": "quantitative", "scale": {"domain": [-8000, 8000], "nice": false, "zero": false}, "axis": {"orient": "left", "values": [-8000,-6000,-4000,-2000,0,2000,4000,6000,8000], "format": "d", "title": "Freq. Change Rate [rad/s²]", "labelPadding": 9, "titlePadding": 6}},
    "detail": {"field": "s"}, "order": {"field": "y"}}},
  {"data": {"name": "p2t"}, "mark": {"type": "line"},
   "encoding": {
    "x": {"field": "x", "type": "quantitative", "axis": null},
    "y": {"field": "y", "type": "quantitative", "axis": null},
    "detail": {"field": "s"}}},
  {"data": {"name": "p2o"}, "mark": {"type": "line"},
   "encoding": {
    "x": {"field": "x", "type": "quantitative", "axis": null},
    "y": {"field": "y", "type": "quantitative", "axis": null},
    "detail": {"field": "s"}, "order": {"field": "i"}}},
  {"data": {"name": "p2tx"}, "mark": {"type": "text"},
   "encoding": {
    "x": {"field": "x", "type": "quantitative", "axis": {"orient": "top", "values": [-100,-80,-60,-40,-20,0,20,40,60,80,100], "labels": false, "title": null}},
    "y": {"field": "y", "type": "quantitative", "axis": {"orient": "right", "values": [-8000,-6000,-4000,-2000,0,2000,4000,6000,8000], "labels": false, "title": null}},
    "text": {"field": "t"}}}
 ],
 "resolve": {"axis": {"x": "independent", "y": "independent"}}
},
{
 "width": 527, "height": 416,
 "layer": [
  {"data": {"name": "p3"}, "mark": {"type": "line"},
   "encoding": {
    "x": {"field": "x", "type": "quantitative", "scale": {"domain": [-100, 100], "nice": false, "zero": false}, "axis": {"orient": "bottom", "values": [-100,-80,-60,-40,-20,0,20,40,60,80,100], "format": "d", "title": "Amp. Change Rate [/s]", "labelPadding": 9, "titlePadding": 2}},
    "y": {"field": "y", "type": "quantitative", "scale": {"domain": [-8000, 8000], "nice": false, "zero": false}, "axis": {"orient": "left", "values": [-8000,-6000,-4000,-2000,0,2000,4000,6000,8000], "format": "d", "title": "Freq. Change Rate [rad/s²]", "labelPadding": 9, "titlePadding": 6}},
    "detail": {"field": "s"}}},
  {"data": {"name": "p3t"}, "mark": {"type": "text"},
   "encoding": {
    "x": {"field": "x", "type": "quantitative", "axis": {"orient": "top", "values": [-100,-80,-60,-40,-20,0,20,40,60,80,100], "labels": false, "title": null}},
    "y": {"field": "y", "type": "quantitative", "axis": {"orient": "right", "values": [-8000,-6000,-4000,-2000,0,2000,4000,6000,8000], "labels": false, "title": null}},
    "text": {"field": "t"}}}
 ],
 "resolve": {"axis": {"x": "independent", "y": "independent"}}
}
]
}
